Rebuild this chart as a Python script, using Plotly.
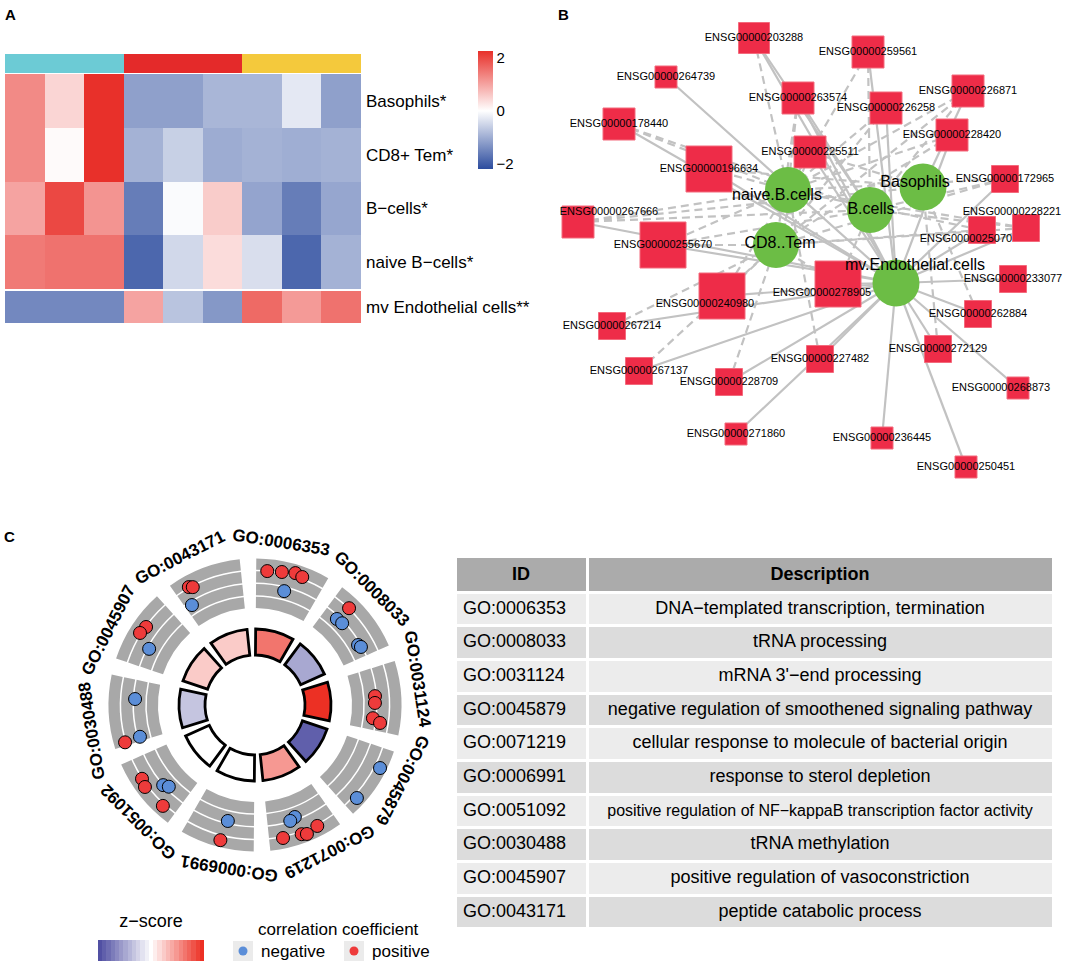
import numpy as np
import plotly.graph_objects as go

W, H = 1084, 965
FONT = "Liberation Sans, Arial, Helvetica, sans-serif"


def fx(x):
    return x / W


def fy(y):
    return 1 - y / H


# ================= Panel A : heatmap data =================
samples = ["S1", "S2", "S3", "S4", "S5", "S6", "S7", "S8", "S9"]
sample_group = [0, 0, 0, 1, 1, 1, 2, 2, 2]
rows_top = ["Basophils*", "CD8+ Tem*", "B−cells*", "naive B−cells*"]
rows_bottom = ["mv Endothelial cells**"]
z_basophils = [1.28, 0.46, 2.26, -1.17, -1.17, -0.90, -0.90, -0.28, -1.17]
z_cd8 = [1.28, 0.05, 2.26, -0.95, -0.58, -1.02, -0.95, -1.00, -0.95]
z_bcells = [1.00, 2.00, 1.17, -1.60, -0.05, 0.56, -1.12, -1.60, -1.10]
z_naive = [1.45, 1.54, 1.54, -1.87, -0.48, 0.38, -0.40, -1.87, -0.95]
z_mv = [-1.46, -1.46, -1.46, 1.00, -0.73, -1.27, 1.63, 1.10, 1.54]
heat_ticks = [-2, 0, 2]

# ================= Panel B : network data =================
cell_nodes = ["naive.B.cells", "B.cells", "Basophils", "CD8..Tem", "mv.Endothelial.cells"]
gene_nodes = [
    "ENSG00000203288", "ENSG00000259561", "ENSG00000264739", "ENSG00000263574",
    "ENSG00000226871", "ENSG00000226258", "ENSG00000178440", "ENSG00000228420",
    "ENSG00000225511", "ENSG00000196634", "ENSG00000172965", "ENSG00000267666",
    "ENSG00000255670", "ENSG00000250708", "ENSG00000228221", "ENSG00000240980",
    "ENSG00000278905", "ENSG00000233077", "ENSG00000262884", "ENSG00000267214",
    "ENSG00000267137", "ENSG00000228709", "ENSG00000227482", "ENSG00000272129",
    "ENSG00000268873", "ENSG00000271860", "ENSG00000236445", "ENSG00000250451",
]
NB, BC, BA, CD, MV = cell_nodes
edges_positive = [  # solid lines
    ("ENSG00000203288", MV), ("ENSG00000259561", MV), ("ENSG00000264739", MV),
    ("ENSG00000263574", MV), ("ENSG00000263574", BC), ("ENSG00000226871", BA),
    ("ENSG00000226258", MV), ("ENSG00000178440", MV), ("ENSG00000228420", MV),
    ("ENSG00000225511", MV), ("ENSG00000196634", MV), ("ENSG00000172965", MV),
    ("ENSG00000267666", MV), ("ENSG00000255670", MV), ("ENSG00000228221", MV),
    ("ENSG00000250708", MV), ("ENSG00000240980", MV), ("ENSG00000278905", MV),
    ("ENSG00000233077", MV), ("ENSG00000262884", MV), ("ENSG00000267214", MV),
    ("ENSG00000267137", MV), ("ENSG00000228709", MV), ("ENSG00000227482", MV),
    ("ENSG00000272129", MV), ("ENSG00000268873", MV), ("ENSG00000271860", MV),
    ("ENSG00000236445", MV), ("ENSG00000250451", MV), ("ENSG00000203288", BC),
]
edges_negative = [  # dashed lines
    ("ENSG00000203288", NB), ("ENSG00000259561", NB), ("ENSG00000259561", BC),
    ("ENSG00000263574", NB), ("ENSG00000263574", CD), ("ENSG00000226871", NB),
    ("ENSG00000226871", BC), ("ENSG00000226871", CD), ("ENSG00000226258", NB),
    ("ENSG00000226258", CD), ("ENSG00000178440", NB), ("ENSG00000178440", BC),
    ("ENSG00000228420", NB), ("ENSG00000228420", CD), ("ENSG00000225511", CD),
    ("ENSG00000225511", BA), ("ENSG00000196634", NB), ("ENSG00000196634", BA),
    ("ENSG00000172965", NB), ("ENSG00000172965", BC), ("ENSG00000172965", CD),
    ("ENSG00000267666", NB), ("ENSG00000267666", BC), ("ENSG00000267666", BA),
    ("ENSG00000255670", NB), ("ENSG00000255670", BC), ("ENSG00000255670", CD),
    ("ENSG00000228221", NB), ("ENSG00000228221", BC), ("ENSG00000228221", CD),
    ("ENSG00000250708", NB), ("ENSG00000250708", CD), ("ENSG00000240980", NB),
    ("ENSG00000240980", CD), ("ENSG00000278905", CD), ("ENSG00000278905", BC),
    ("ENSG00000262884", BA), ("ENSG00000267214", CD), ("ENSG00000267137", CD),
    ("ENSG00000228709", CD), ("ENSG00000227482", NB), ("ENSG00000272129", BA),
]

# ================= Panel C : GO circle + table data =================
go_ids = ["GO:0006353", "GO:0008033", "GO:0031124", "GO:0045879", "GO:0071219",
          "GO:0006991", "GO:0051092", "GO:0030488", "GO:0045907", "GO:0043171"]
go_desc = [
    "DNA−templated transcription, termination",
    "tRNA processing",
    "mRNA 3'−end processing",
    "negative regulation of smoothened signaling pathway",
    "cellular response to molecule of bacterial origin",
    "response to sterol depletion",
    "positive regulation of NF−kappaB transcription factor activity",
    "tRNA methylation",
    "positive regulation of vasoconstriction",
    "peptide catabolic process",
]
go_zscore = [1.9, -1.4, 2.9, -2.7, 1.5, 0.0, 0.0, -0.9, 0.8, 0.65]
# genes of each term: term index, relative position inside the sector, logFC, correlation sign
gene_term = [0, 0, 0, 0, 0, 1, 1, 1, 1, 1, 2, 2, 2, 2, 3, 3, 4, 4, 4, 4, 4, 4,
             5, 5, 6, 6, 6, 6, 6, 7, 7, 7, 8, 8, 8, 9, 9, 9]
gene_pos = [.16, .37, .56, .67, .47, .26, .24, .35, .79, .84, .45, .56, .81, .87, .28, .81,
            .54, .63, .28, .53, .46, .80, .43, .47, .69, .57, .42, .34, .20, .69, .07, .05,
            .58, .46, .32, .21, .26, .11]
gene_logfc = [1.04, 1.14, 1.33, 1.20, -0.37, 1.08, -0.27, -0.21, -0.23, -0.10,
              -0.14, -0.17, -0.28, 0.36, 1.50, 1.33, -0.26, -0.07, 1.17, 1.28, 1.42, 1.16,
              -0.24, 1.46, 1.08, 1.27, -0.01, -0.27, 1.22, -0.16, -0.22, 1.10,
              1.00, 1.14, -0.18, 1.10, 0.94, -0.32]
gene_sign = [1, 1, 1, 1, -1, 1, -1, -1, -1, -1, 1, 1, 1, 1, -1, -1, -1, -1, 1, 1, 1, 1,
             -1, 1, 1, 1, -1, -1, 1, -1, -1, 1, 1, 1, -1, 1, 1, -1]

# ================= layout / style constants =================
HEAT_X0, HEAT_X1 = 5, 361
BAR_Y0, BAR_Y1 = 54, 73
TOP_Y0, TOP_Y1 = 74, 289
BOT_Y0, BOT_Y1 = 291, 323
HEAT_SCALE = [[0, "#2c4c9e"], [2.2 / 4.46, "#ffffff"], [1, "#e8302a"]]
GROUP_SCALE = [[0, "#6ccbd5"], [0.333, "#6ccbd5"], [0.334, "#e42a2a"], [0.666, "#e42a2a"],
               [0.667, "#f4c93c"], [1, "#f4c93c"]]

# network node layout: x, y (px), node size, label offset dx, dy
node_layout = {
    "ENSG00000203288": (754, 38, 31, 0, 0),
    "ENSG00000259561": (868, 52, 32, 0, 0),
    "ENSG00000264739": (666, 77, 22, 0, 0),
    "ENSG00000263574": (798, 98, 32, 0, 0),
    "ENSG00000226871": (968, 91, 32, 0, 0),
    "ENSG00000226258": (886, 108, 32, 0, 0),
    "ENSG00000178440": (619, 124, 32, 0, 0),
    "ENSG00000228420": (952, 135, 32, 0, 0),
    "ENSG00000225511": (810, 152, 32, 0, 0),
    "ENSG00000196634": (709, 169, 46, 0, 0),
    "ENSG00000172965": (1005, 179, 27, 0, 0),
    "ENSG00000267666": (578, 222, 32, 31, -10),
    "ENSG00000255670": (663, 245, 46, 0, 0),
    "ENSG00000250708": (982, 230, 27, -13, 9),
    "ENSG00000228221": (1026, 228, 27, -14, -16),
    "ENSG00000240980": (722, 296, 46, -17, 8),
    "ENSG00000278905": (838, 284, 46, -16, 9),
    "ENSG00000233077": (1013, 279, 27, 0, 0),
    "ENSG00000262884": (978, 314, 27, 0, 0),
    "ENSG00000267214": (612, 326, 27, 0, 0),
    "ENSG00000267137": (639, 371, 27, 0, 0),
    "ENSG00000228709": (729, 382, 27, 0, 0),
    "ENSG00000227482": (820, 359, 27, 0, 0),
    "ENSG00000272129": (938, 349, 27, 0, 0),
    "ENSG00000268873": (1018, 388, 22, -17, 0),
    "ENSG00000271860": (736, 434, 22, 0, 0),
    "ENSG00000236445": (882, 438, 22, 0, 0),
    "ENSG00000250451": (966, 467, 22, 0, 0),
    "naive.B.cells": (788, 190, 46, -11, 6),
    "B.cells": (870, 210, 46, 1, 0),
    "Basophils": (923, 187, 47, -8, -4),
    "CD8..Tem": (776, 245, 46, 4, -1),
    "mv.Endothelial.cells": (896, 283, 47, 19, -17),
}

# GO circle geometry (px)
CX, CY, RMAX = 255, 705, 155
SEC_SPAN = 29.5
TRACK_R0, TRACK_STEP, TRACK_W = 97, 12.75, 11.25
ZR0, ZRW = 50, 26
LABEL_R = 165

fig = go.Figure()

# ---------- Panel A ----------
fig.add_trace(go.Heatmap(
    z=[sample_group], x=samples, y=["group"], colorscale=GROUP_SCALE, zmin=0, zmax=2,
    showscale=False, xaxis="x3", yaxis="y3", hoverinfo="skip"))
fig.add_trace(go.Heatmap(
    z=[z_basophils, z_cd8, z_bcells, z_naive], x=samples, y=rows_top,
    colorscale=HEAT_SCALE, zmin=-2.2, zmax=2.26, xaxis="x", yaxis="y",
    colorbar=dict(x=fx(478), xanchor="left", y=fy(51), yanchor="top", len=118,
                  lenmode="pixels", thickness=15, thicknessmode="pixels", xpad=0, ypad=0,
                  tickvals=heat_ticks, ticks="", outlinewidth=0,
                  tickfont=dict(size=15, color="black", family=FONT))))
fig.add_trace(go.Heatmap(
    z=[z_mv], x=samples, y=rows_bottom, colorscale=HEAT_SCALE, zmin=-2.2, zmax=2.26,
    showscale=False, xaxis="x2", yaxis="y2"))

# ---------- Panel B ----------
def edge_xy(edges):
    xs, ys = [], []
    for g, c in edges:
        xs += [node_layout[g][0], node_layout[c][0], None]
        ys += [node_layout[g][1], node_layout[c][1], None]
    return xs, ys


ex, ey = edge_xy(edges_negative)
fig.add_trace(go.Scatter(x=ex, y=ey, mode="lines", xaxis="x4", yaxis="y4",
                         line=dict(color="#c2c2c2", width=2.2, dash="8px,5px"),
                         hoverinfo="skip", showlegend=False))
ex, ey = edge_xy(edges_positive)
fig.add_trace(go.Scatter(x=ex, y=ey, mode="lines", xaxis="x4", yaxis="y4",
                         line=dict(color="#c2c2c2", width=2.2),
                         hoverinfo="skip", showlegend=False))

for g in gene_nodes:
    x, y, s, dx, dy = node_layout[g]
    fig.add_trace(go.Scatter(
        x=[x], y=[y], mode="markers", xaxis="x4", yaxis="y4", showlegend=False,
        marker=dict(symbol="square", size=s, color="#ee2c48",
                    line=dict(color="#f36a7c", width=1))))
    fig.add_trace(go.Scatter(
        x=[x + dx], y=[y + dy], mode="text", text=[g], xaxis="x4", yaxis="y4",
        showlegend=False, textfont=dict(size=11, color="black", family=FONT)))

for c in cell_nodes:
    x, y, s, dx, dy = node_layout[c]
    fig.add_trace(go.Scatter(
        x=[x], y=[y], mode="markers", xaxis="x4", yaxis="y4", showlegend=False,
        marker=dict(symbol="circle", size=s, color="#6cbd45", line=dict(width=0))))
for c in cell_nodes:
    x, y, s, dx, dy = node_layout[c]
    fig.add_trace(go.Scatter(
        x=[x + dx], y=[y + dy], mode="text", text=[c], xaxis="x4", yaxis="y4",
        showlegend=False, textfont=dict(size=16, color="black", family=FONT)))

# ---------- Panel C : GO circle ----------
sec_start = [36 * i + 0.5 for i in range(len(go_ids))]
sec_mid = [s + SEC_SPAN / 2 for s in sec_start]


def blend(c1, c2, t):
    a = np.array([int(c1[i:i + 2], 16) for i in (1, 3, 5)])
    b = np.array([int(c2[i:i + 2], 16) for i in (1, 3, 5)])
    v = np.round(a + (b - a) * t).astype(int)
    return "rgb(%d,%d,%d)" % tuple(v)


NSTEP = 25
zs_scale = []
for i in range(NSTEP):
    t = i / (NSTEP - 1)
    col = blend("#5150a3", "#ffffff", t * 2) if t <= 0.5 else blend("#ffffff", "#ec3024", t * 2 - 1)
    zs_scale += [[i / NSTEP, col], [(i + 1) / NSTEP, col]]

for k in range(4):
    fig.add_trace(go.Barpolar(
        theta=sec_mid, width=[SEC_SPAN] * len(go_ids),
        base=[TRACK_R0 + k * TRACK_STEP] * len(go_ids), r=[TRACK_W] * len(go_ids),
        marker=dict(color="#a8a8a8", line=dict(width=0)), subplot="polar",
        showlegend=False, hoverinfo="skip"))

fig.add_trace(go.Barpolar(
    theta=sec_mid, width=[SEC_SPAN] * len(go_ids), base=[ZR0] * len(go_ids),
    r=[ZRW] * len(go_ids), subplot="polar", showlegend=False,
    marker=dict(color=go_zscore, colorscale=zs_scale, cmin=-3, cmax=3,
                line=dict(color="black", width=2.8), showscale=True,
                colorbar=dict(orientation="h", x=fx(151), xanchor="center", y=fy(961),
                              yanchor="bottom", len=106, lenmode="pixels", thickness=21,
                              thicknessmode="pixels", xpad=0, ypad=0, outlinewidth=0,
                              showticklabels=False, ticks="",
                              title=dict(text="z−score", side="top",
                                         font=dict(size=18, color="black", family=FONT))))))

dot_theta = [sec_start[t] + p * SEC_SPAN for t, p in zip(gene_term, gene_pos)]
dot_r = [122 + 12 * v for v in gene_logfc]
dot_col = ["#ee3b3b" if s > 0 else "#5b8ed8" for s in gene_sign]
fig.add_trace(go.Scatterpolar(
    theta=dot_theta, r=dot_r, mode="markers", subplot="polar", showlegend=False,
    marker=dict(size=13, color=dot_col, line=dict(color="black", width=1))))

annotations = []
for i, gid in enumerate(go_ids):
    ang = 36 * i + 9
    a = np.deg2rad(ang)
    ta = ang if ang <= 180 else ang - 360
    annotations.append(dict(
        x=fx(CX + LABEL_R * np.sin(a)), y=fy(CY - LABEL_R * np.cos(a)), xref="paper",
        yref="paper", text="<b>%s</b>" % gid, showarrow=False, textangle=ta,
        xanchor="center", yanchor="middle",
        font=dict(size=17, color="black", family=FONT)))

# correlation legend (manual)
fig.add_trace(go.Scatter(x=[243, 354], y=[951, 951], mode="markers", xaxis="x4", yaxis="y4",
                         showlegend=False, hoverinfo="skip",
                         marker=dict(symbol="square", size=20, color="#ebebeb")))
fig.add_trace(go.Scatter(x=[243, 354], y=[951, 951], mode="markers", xaxis="x4", yaxis="y4",
                         showlegend=False, hoverinfo="skip",
                         marker=dict(size=9, color=["#5b8ed8", "#ee3b3b"])))
annotations.append(dict(x=fx(338), y=fy(929), xref="paper", yref="paper",
                        text="correlation coefficient", showarrow=False,
                        xanchor="center", yanchor="middle",
                        font=dict(size=17, color="black", family=FONT)))
annotations.append(dict(x=fx(259), y=fy(951), xref="paper", yref="paper", text="negative",
                        showarrow=False, xanchor="left", yanchor="middle",
                        font=dict(size=17, color="black", family=FONT)))
annotations.append(dict(x=fx(370), y=fy(951), xref="paper", yref="paper", text="positive",
                        showarrow=False, xanchor="left", yanchor="middle",
                        font=dict(size=17, color="black", family=FONT)))

# ---------- Table ----------
row_fill = ["#ececec" if i % 2 == 0 else "#dcdcdc" for i in range(len(go_ids))]
desc_cells = ['<span style="font-size:16px">%s</span><br>' % d if len(d) > 55 else d
              for d in go_desc]
fig.add_trace(go.Table(
    domain=dict(x=[fx(455), fx(1053)], y=[fy(940), fy(556)]),
    columnwidth=[132, 466],
    header=dict(values=["<b>ID</b>", "<b>Description</b>"], fill_color="#ababab",
                line=dict(color="white", width=3), height=32, align="center",
                font=dict(size=18, color="black", family=FONT)),
    cells=dict(values=[go_ids, desc_cells], fill_color=[row_fill, row_fill],
               line=dict(color="white", width=3), height=33.7, align=["left", "center"],
               font=dict(size=18, color="black", family=FONT))))

# panel letters
for letter, x, y in [("A", 10, 14), ("B", 564, 14), ("C", 9, 536)]:
    annotations.append(dict(x=fx(x), y=fy(y), xref="paper", yref="paper",
                            text="<b>%s</b>" % letter, showarrow=False,
                            xanchor="center", yanchor="middle",
                            font=dict(size=15, color="black", family=FONT)))

hidden = dict(visible=False, showgrid=False, zeroline=False)
fig.update_layout(
    width=W, height=H, margin=dict(l=0, r=0, t=0, b=0),
    paper_bgcolor="white", plot_bgcolor="rgba(0,0,0,0)",
    font=dict(family=FONT, color="black"),
    showlegend=False,
    xaxis=dict(domain=[fx(HEAT_X0), fx(HEAT_X1)], anchor="y", **hidden),
    yaxis=dict(domain=[fy(TOP_Y1), fy(TOP_Y0)], anchor="x", autorange="reversed",
               side="right", showgrid=False, zeroline=False, ticks="", showline=False,
               ticklabelstandoff=4, tickfont=dict(size=17, color="black", family=FONT)),
    xaxis2=dict(domain=[fx(HEAT_X0), fx(HEAT_X1)], anchor="y2", **hidden),
    yaxis2=dict(domain=[fy(BOT_Y1), fy(BOT_Y0)], anchor="x2", side="right",
                showgrid=False, zeroline=False, ticks="", showline=False,
                ticklabelstandoff=4, tickfont=dict(size=17, color="black", family=FONT)),
    xaxis3=dict(domain=[fx(HEAT_X0), fx(HEAT_X1)], anchor="y3", **hidden),
    yaxis3=dict(domain=[fy(BAR_Y1), fy(BAR_Y0)], anchor="x3", **hidden),
    xaxis4=dict(domain=[0, 1], range=[0, W], anchor="y4", fixedrange=True, **hidden),
    yaxis4=dict(domain=[0, 1], range=[H, 0], anchor="x4", fixedrange=True, **hidden),
    polar=dict(
        domain=dict(x=[fx(CX - RMAX), fx(CX + RMAX)], y=[fy(CY + RMAX), fy(CY - RMAX)]),
        bgcolor="rgba(0,0,0,0)", hole=0,
        radialaxis=dict(range=[0, RMAX], visible=False),
        angularaxis=dict(rotation=90, direction="clockwise", visible=False)),
    annotations=annotations,
)

fig.write_html("out.html", config={"displayModeBar": False},
               post_script="document.body.style.margin='0px';document.body.style.overflow='hidden';")
